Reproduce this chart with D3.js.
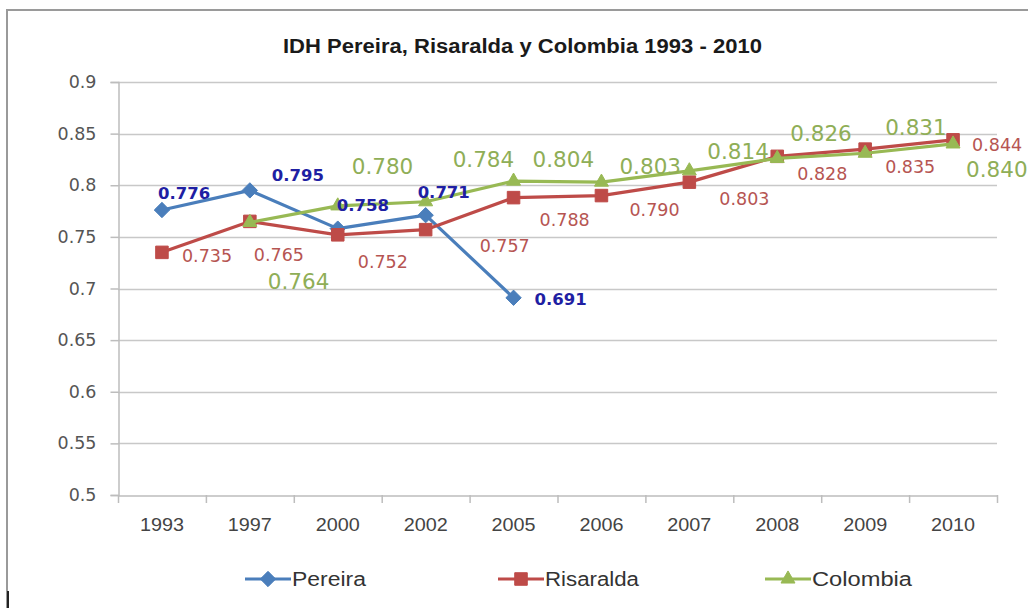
<!DOCTYPE html>
<html>
<head>
<meta charset="utf-8">
<script src="https://cdn.jsdelivr.net/npm/d3@7"></script>
<style>
  html, body { margin: 0; padding: 0; background: #fff; }
  svg { display: block; }
</style>
</head>
<body>
<svg id="chart" width="1028" height="608"></svg>
<script>
// ---- data ----
const categories = ["1993", "1997", "2000", "2002", "2005", "2006", "2007", "2008", "2009", "2010"];
const pereira   = [0.776, 0.795, 0.758, 0.771, 0.691, null, null, null, null, null];
const risaralda = [0.735, 0.765, 0.752, 0.757, 0.788, 0.790, 0.803, 0.828, 0.835, 0.844];
const colombia  = [null, 0.764, 0.780, 0.784, 0.804, 0.803, 0.814, 0.826, 0.831, 0.840];
const yTicks = [0.5, 0.55, 0.6, 0.65, 0.7, 0.75, 0.8, 0.85, 0.9];
const yTickLabels = ["0.5", "0.55", "0.6", "0.65", "0.7", "0.75", "0.8", "0.85", "0.9"];
const seriesNames = ["Pereira", "Risaralda", "Colombia"];
const titleText = "IDH Pereira, Risaralda y Colombia 1993 - 2010";

// ---- layout / style ----
const svg = d3.select("#chart");
const plot = { left: 118, right: 997, top: 82, bottom: 495 };
const x = d3.scaleBand().domain(categories).range([plot.left, plot.right]).padding(0);
const y = d3.scaleLinear().domain([0.5, 0.9]).range([plot.bottom, plot.top]);
const cx = c => x(c) + x.bandwidth() / 2;

// label offsets (dx: left edge of text relative to marker, dy: vertical center relative to marker)
const labelOffsets = {
  Pereira:   [[-4,-17],[22,-15],[-1,-24],[-8,-23],[21,1]],
  Risaralda: [[20,3],[4,33],[20,27],[54,16],[26,22],[28,14],[30,17],[20,17],[20,18],[19,5]],
  Colombia:  [null,[18,59],[14,-40],[27,-43],[19,-22],[18,-16],[18,-20],[13,-25],[20,-26],[13,25]]
};

const series = [
  { name: seriesNames[0], values: pereira,   color: "#4a7ebb", marker: "diamond",  labelColor: "#1f1fa3", labelFont: "bold 16.5px 'DejaVu Sans'" },
  { name: seriesNames[1], values: risaralda, color: "#be4b48", marker: "square",   labelColor: "#b65552", labelFont: "17.5px 'DejaVu Sans'" },
  { name: seriesNames[2], values: colombia,  color: "#98b954", marker: "triangle", labelColor: "#8fae57", labelFont: "21.5px 'DejaVu Sans'" }
];

// frame
svg.append("rect").attr("x", 7).attr("y", 10).attr("width", 1030).attr("height", 610)
  .attr("fill", "none").attr("stroke", "#9a9a9a").attr("stroke-width", 2);
svg.append("line").attr("x1", 8).attr("x2", 8).attr("y1", 591).attr("y2", 608)
  .attr("stroke", "#222").attr("stroke-width", 2);

// title
svg.append("text").attr("x", 522.5).attr("y", 53).attr("text-anchor", "middle")
  .attr("textLength", 479).attr("lengthAdjust", "spacingAndGlyphs")
  .style("font", "bold 20px 'Liberation Sans'").attr("fill", "#1a1a1a").text(titleText);

// gridlines
svg.append("g").selectAll("line").data(yTicks.slice(1)).join("line")
  .attr("x1", plot.left).attr("x2", plot.right)
  .attr("y1", d => Math.round(y(d)) + 0.5).attr("y2", d => Math.round(y(d)) + 0.5)
  .attr("stroke", "#c8c8c8").attr("stroke-width", 1.5);

// y axis
const yAxis = d3.axisLeft(y).tickValues(yTicks).tickSize(8).tickPadding(14)
  .tickFormat((d, i) => yTickLabels[i]);
const gy = svg.append("g").attr("transform", `translate(${plot.left + 0.5},0)`).call(yAxis);
gy.select(".domain").attr("stroke", "#bdbdbd").attr("stroke-width", 1.5);
gy.selectAll(".tick line").attr("stroke", "#bdbdbd").attr("stroke-width", 1.5);
gy.selectAll(".tick text").style("font", "17.5px 'DejaVu Sans'").attr("fill", "#555");

// x axis
const xAxis = d3.axisBottom(x).tickSize(0).tickPadding(22);
const gx = svg.append("g").attr("transform", `translate(0,${plot.bottom + 0.5})`).call(xAxis);
gx.select(".domain").attr("stroke", "#bdbdbd").attr("stroke-width", 1.5);
gx.selectAll(".tick text").style("font", "19px 'Liberation Sans'").attr("fill", "#444")
  .attr("textLength", 44).attr("lengthAdjust", "spacingAndGlyphs");
const bounds = categories.map(c => x(c)).concat([plot.right]);
svg.append("g").selectAll("line").data(bounds).join("line")
  .attr("x1", d => d + 0.5).attr("x2", d => d + 0.5)
  .attr("y1", plot.bottom).attr("y2", plot.bottom + 8)
  .attr("stroke", "#bdbdbd").attr("stroke-width", 1.5);

// marker symbol
function marker(sel, type, color) {
  const sym = type === "diamond" ? d3.symbolDiamond2 : type === "square" ? d3.symbolSquare2 : d3.symbolTriangle2;
  const size = type === "diamond" ? 150 : type === "square" ? 200 : 140;
  sel.append("path").attr("d", d3.symbol(sym, size)())
    .attr("fill", color).attr("stroke", color).attr("stroke-width", 1);
}

// lines, markers, labels
series.forEach(s => {
  const pts = categories.map((c, i) => ({ c, v: s.values[i], i })).filter(p => p.v != null);
  const line = d3.line().x(p => cx(p.c)).y(p => y(p.v));
  svg.append("path").datum(pts).attr("d", line)
    .attr("fill", "none").attr("stroke", s.color).attr("stroke-width", 3.2).attr("stroke-linejoin", "round");
  const g = svg.append("g");
  pts.forEach(p => {
    const m = g.append("g").attr("transform", `translate(${cx(p.c)},${y(p.v)})`);
    marker(m, s.marker, s.color);
  });
  s.pts = pts;
});

series.forEach(s => {
  s.pts.forEach(p => {
    const off = labelOffsets[s.name][p.i];
    svg.append("text")
      .attr("x", cx(p.c) + off[0]).attr("y", y(p.v) + off[1]).attr("dy", "0.36em")
      .style("font", s.labelFont).attr("fill", s.labelColor)
      .text(p.v.toFixed(3));
  });
});

// legend
const legendPos = [245, 498, 765];
const legendTextLen = [74, 94, 100];
series.forEach((s, i) => {
  const lg = svg.append("g").attr("transform", `translate(${legendPos[i]},579)`);
  lg.append("line").attr("x1", 0).attr("x2", 46).attr("y1", 0).attr("y2", 0)
    .attr("stroke", s.color).attr("stroke-width", 3.2);
  const m = lg.append("g").attr("transform", "translate(23,0)");
  marker(m, s.marker, s.color);
  lg.append("text").attr("x", 47).attr("y", 0).attr("dy", "0.36em")
    .attr("textLength", legendTextLen[i]).attr("lengthAdjust", "spacingAndGlyphs")
    .style("font", "20px 'Liberation Sans'").attr("fill", "#333").text(s.name);
});
</script>
</body>
</html>
